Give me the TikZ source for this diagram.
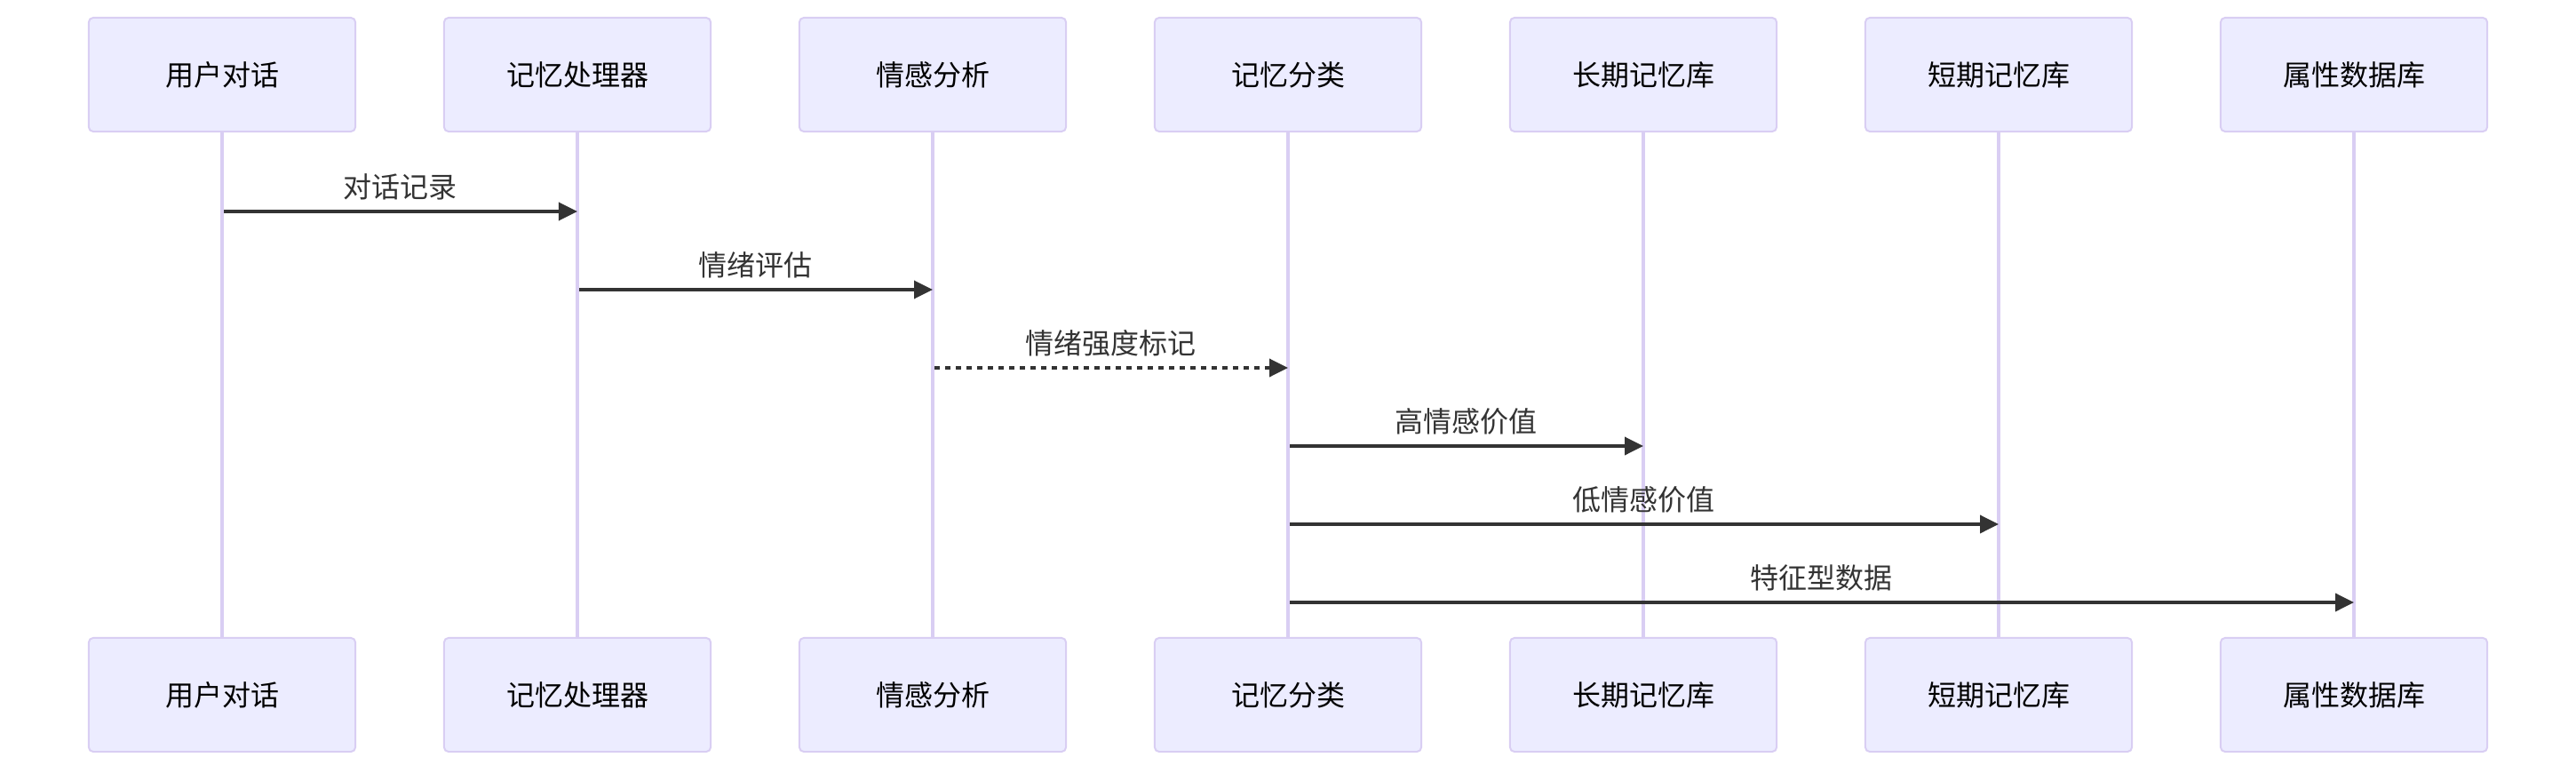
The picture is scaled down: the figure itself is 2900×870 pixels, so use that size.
\documentclass[tikz,border=0pt]{standalone}
\usepackage{fontspec}
\setmainfont{Noto Sans CJK SC}
\usetikzlibrary{arrows.meta}
\definecolor{actorfill}{HTML}{ECECFF}
\definecolor{actorline}{HTML}{D9CEF3}
\definecolor{msgcolor}{HTML}{333333}
\tikzset{
  actor/.style = {draw = actorline, fill = actorfill, line width = 0.02cm, rounded corners = 0.05cm,
    minimum width = 3cm, minimum height = 1.28cm, inner sep = 0pt, text = black,
    font = \fontsize{9.1pt}{11pt}\selectfont},
  lifeline/.style = {draw = actorline, line width = 0.04cm},
  msg/.style = {draw = msgcolor, line width = 0.035cm, shorten <= 0.02cm,
    -{Triangle[length = 0.21cm, width = 0.2cm]}},
  msgdashed/.style = {msg, dash pattern = on 0.06cm off 0.06cm},
  msglabel/.style = {text = msgcolor, inner sep = 0pt, yshift = 0.28cm,
    font = \fontsize{9.1pt}{11pt}\selectfont}
}
\begin{document}
\begin{tikzpicture}[x = 0.01cm, y = 0.01cm]
\useasboundingbox (0,0) rectangle (2900,-870);
\pgfmathsetmacro\gap{400};
\foreach \n/\name in {1/用户对话, 2/记忆处理器, 3/情感分析, 4/记忆分类, 5/长期记忆库, 6/短期记忆库, 7/属性数据库} {
  \node[actor] (top\n) at (\n*\gap-150,-84) {\name};
  \node[actor] (bot\n) at (\n*\gap-150,-782) {\name};
  \draw[lifeline] (top\n) -- (bot\n);
}
\draw[msg] (top1 |- 0,-238) -- (top2 |- 0,-238) node[msglabel, midway] {对话记录};
\draw[msg] (top2 |- 0,-326) -- (top3 |- 0,-326) node[msglabel, midway] {情绪评估};
\draw[msgdashed] (top3 |- 0,-414) -- (top4 |- 0,-414) node[msglabel, midway] {情绪强度标记};
\draw[msg] (top4 |- 0,-502) -- (top5 |- 0,-502) node[msglabel, midway] {高情感价值};
\draw[msg] (top4 |- 0,-590) -- (top6 |- 0,-590) node[msglabel, midway] {低情感价值};
\draw[msg] (top4 |- 0,-678) -- (top7 |- 0,-678) node[msglabel, midway] {特征型数据};
\end{tikzpicture}
\end{document}
